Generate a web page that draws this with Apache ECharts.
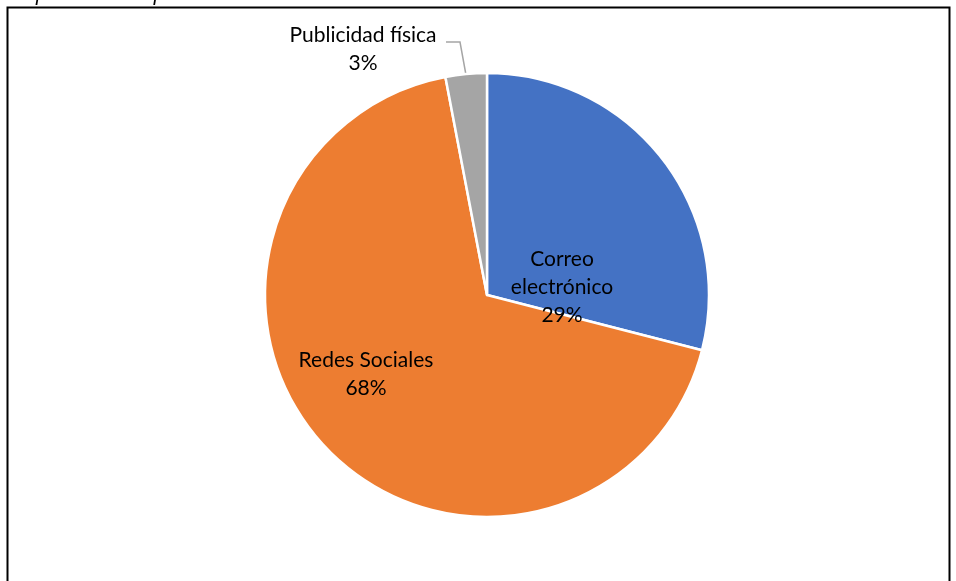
<!DOCTYPE html>
<html><head><meta charset="utf-8">
<script src="https://cdn.jsdelivr.net/npm/echarts@6/dist/echarts.min.js"></script>
<style>html,body{margin:0;padding:0;background:#fff}#c{width:956px;height:581px}</style>
</head><body><div id="c"></div>
<script>
const categories = ['Correo\nelectrónico', 'Redes Sociales', 'Publicidad física'];
const values = [29, 68, 3];
const colors = ['#4472C4', '#ED7D31', '#A5A5A5'];
const labelSpots = [[562, 287], [366, 374], [363, 49]];

const chart = echarts.init(document.getElementById('c'), null, {renderer: 'canvas'});
chart.setOption({
  animation: false,
  graphic: [
    {type: 'rect', shape: {x: 7.5, y: 7.5, width: 942, height: 600}, style: {fill: 'none', stroke: '#000', lineWidth: 2}},
    {type: 'text', left: 12, top: -17, style: {text: 'Referentes de información', font: 'italic 22px "Liberation Serif"', fill: '#000'}}
  ],
  series: [{
    type: 'pie',
    center: [487, 295],
    radius: 222,
    startAngle: 90,
    clockwise: true,
    data: categories.map((n, i) => ({
      name: n, value: values[i], itemStyle: {color: colors[i]},
      labelLine: {show: i === 2}
    })),
    itemStyle: {borderColor: '#fff', borderWidth: 2.5},
    label: {
      show: true,
      position: 'outside',
      formatter: '{b}\n{d}%',
      fontFamily: 'Lato',
      fontSize: 21,
      lineHeight: 28,
      color: '#000',
      align: 'center'
    },
    labelLine: {show: true, length: 10, length2: 10, lineStyle: {color: '#A5A5A5', width: 1.5}},
    labelLayout: function (p) {
      const s = labelSpots[p.dataIndex];
      const r = {x: s[0], y: s[1], align: 'center', verticalAlign: 'middle'};
      if (p.dataIndex === 2) {
        r.labelLinePoints = [[466, 75], [460, 42], [446, 42]];
      }
      return r;
    },
    emphasis: {disabled: true}
  }]
});
</script></body></html>
